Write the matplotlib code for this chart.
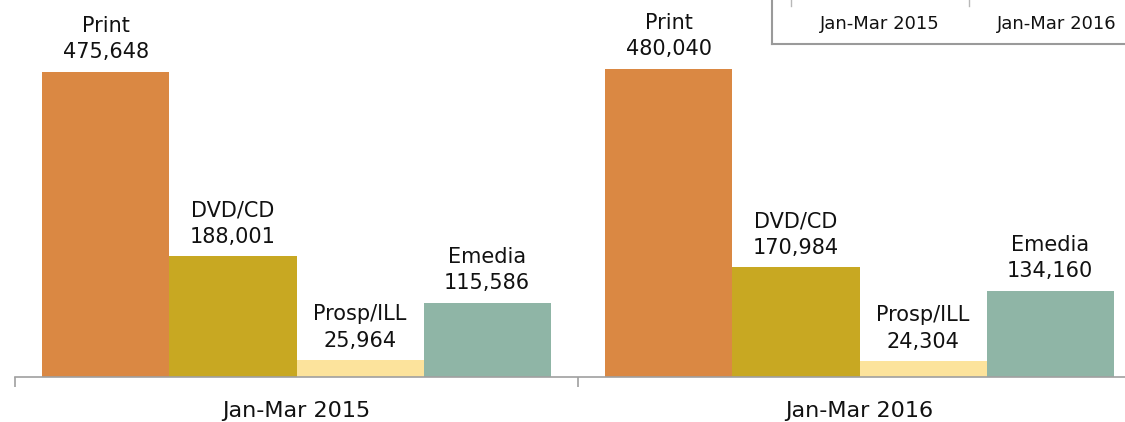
import matplotlib
matplotlib.use("Agg")
import matplotlib.pyplot as plt
from matplotlib.lines import Line2D
import numpy as np

periods = ["Jan-Mar 2015", "Jan-Mar 2016"]
formats = ["Print", "DVD/CD", "Prosp/ILL", "Emedia"]
values_2015 = [475648, 188001, 25964, 115586]
values_2016 = [480040, 170984, 24304, 134160]
colors = ["#DA8843", "#C8A822", "#FCE39C", "#8FB5A6"]

plt.rcParams["font.family"] = ["DejaVu Sans"]

fig = plt.figure(figsize=(11.25, 4.22), dpi=100)
# axes runs a bit past the right edge, like the original slide crop
ax = fig.add_axes([15 / 1125, 45 / 422, 1126 / 1125, 377 / 422])

x = np.arange(len(periods))
w = 0.2256
data = np.array([values_2015, values_2016])
for i, name in enumerate(formats):
    pos = x + (i - 1.5) * w
    bars = ax.bar(pos, data[:, i], width=w, color=colors[i])
    for b, v in zip(bars, data[:, i]):
        ax.annotate(f"{name}\n{v:,}", (b.get_x() + b.get_width() / 2, v),
                    xytext=(0, 7), textcoords="offset points",
                    ha="center", va="bottom", fontsize=15, linespacing=1.4,
                    color="#111111")

ax.set_xlim(-0.5, 1.5)
ax.set_ylim(0, 588000)
ax.set_xticks([-0.5, 0.5, 1.5])
ax.set_xticklabels([])
ax.set_xticks(x, minor=True)
ax.set_xticklabels(periods, minor=True, fontsize=16, color="#111111")
ax.tick_params(axis="x", which="major", length=7, color="#A0A0A0", width=1.2)
ax.tick_params(axis="x", which="minor", length=0, pad=17)
ax.set_yticks([])
for s in ["top", "left", "right"]:
    ax.spines[s].set_visible(False)
ax.spines["bottom"].set_color("#A0A0A0")
ax.spines["bottom"].set_linewidth(1.2)

# clipped data table box at top right
H = 422
fig.add_artist(Line2D([772 / 1125, 772 / 1125], [1, 1 - 44 / H], color="#9A9A9A", lw=1.5))
fig.add_artist(Line2D([772 / 1125, 1], [1 - 44 / H, 1 - 44 / H], color="#9A9A9A", lw=1.5))
for xp in [791, 969]:
    fig.add_artist(Line2D([xp / 1125, xp / 1125], [1, 1 - 6 / H], color="#B8B8B8", lw=1))
fig.text(880 / 1125, 1 - 24 / H, periods[0], ha="center", va="center", fontsize=13, color="#111111")
fig.text(1057 / 1125, 1 - 24 / H, periods[1], ha="center", va="center", fontsize=13, color="#111111")

fig.savefig("out.png", dpi=100)
